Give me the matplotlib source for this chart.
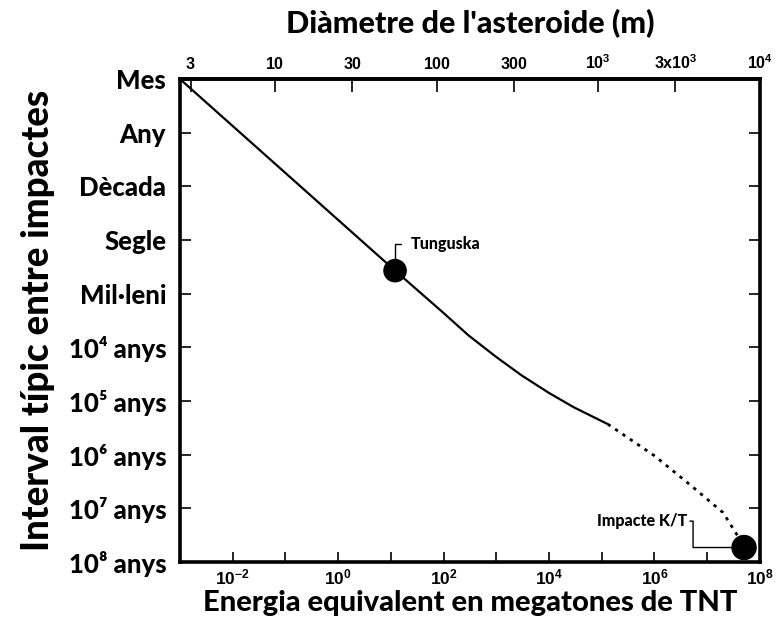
import matplotlib
matplotlib.use("Agg")
import matplotlib.pyplot as plt
import numpy as np

# %%
# Values
# energy in megatons of TNT, interval as log10(years) (-1 = month)
solid_energy = [1e-3, 1e-1, 1e1, 1e2, 3e2, 1e3, 3e3, 1e4, 3e4, 1.3e5]
solid_interval = [-1.0, 0.75, 2.5, 3.36, 3.78, 4.18, 4.52, 4.85, 5.12, 5.43]
dotted_energy = [1.3e5, 1e6, 5e6, 2e7, 4e7]
dotted_interval = [5.43, 6.02, 6.58, 7.08, 7.55]

event_names = ["Tunguska", "Impacte K/T"]
event_energy = [12.0, 5e7]
event_interval = [2.57, 7.73]

y_ticks = [-1, 0, 1, 2, 3, 4, 5, 6, 7, 8]
y_labels = ["Mes", "Any", "Dècada", "Segle", "Mil·leni",
            "10⁴ anys", "10⁵ anys", "10⁶ anys", "10⁷ anys", "10⁸ anys"]

x_ticks = [10.0 ** k for k in range(-3, 9)]
x_labels = ["", r"$10^{-2}$", "", r"$10^{0}$", "", r"$10^{2}$", "",
            r"$10^{4}$", "", r"$10^{6}$", "", r"$10^{8}$"]

diam_ticks = [3, 10, 30, 100, 300, 1000, 3000, 10000]
diam_labels = [r"$3$", r"$10$", r"$30$", r"$100$", r"$300$",
               r"$10^3$", r"$3x10^3$", r"$10^4$"]

# %%
plt.rcParams["mathtext.fontset"] = "custom"
plt.rcParams["mathtext.rm"] = "Liberation Sans:bold"
plt.rcParams["mathtext.it"] = "Liberation Sans:bold"
plt.rcParams["mathtext.bf"] = "Liberation Sans:bold"

big_font = ["Lato", "DejaVu Sans"]

fig = plt.figure(figsize=(7.81, 6.18), dpi=100)
ax = fig.add_axes([0.2305, 0.0906, 0.7425, 0.7814])

ax.plot(solid_energy, solid_interval, color="black", lw=1.6, solid_capstyle="butt")
ax.plot(dotted_energy, dotted_interval, color="black", lw=2.0, ls=(0, (1.2, 2.0)))
ax.scatter(event_energy, event_interval, s=[256, 300], color="black", zorder=5, clip_on=False)

ax.set_xscale("log")
ax.set_xlim(1e-3, 1e8)
ax.set_ylim(8, -1)

ax.set_xticks(x_ticks)
ax.set_xticklabels(x_labels)
ax.xaxis.set_minor_locator(matplotlib.ticker.NullLocator())
ax.set_yticks(y_ticks)
ax.set_yticklabels(y_labels, family=big_font, weight="black", fontsize=18.5)

ax.tick_params(axis="x", direction="in", length=7, width=1.2, labelsize=12.5, pad=5)
ax.tick_params(axis="y", direction="in", length=8, width=1.2, right=True, pad=10)
for s in ax.spines.values():
    s.set_linewidth(2.6)

ax.set_xlabel("Energia equivalent en megatones de TNT", family=big_font,
              weight="black", fontsize=21, labelpad=1)
ax.set_ylabel("Interval típic entre impactes", family=big_font,
              weight="black", fontsize=26.5, labelpad=10)


# diameter axis: E = 1e8 * (d / 1e4) ** 3.066
def e_to_d(e):
    e = np.clip(e, 1e-30, None)
    return 1e4 * (e / 1e8) ** (1 / 3.066)


def d_to_e(d):
    d = np.clip(d, 1e-30, None)
    return 1e8 * (d / 1e4) ** 3.066


top = ax.secondary_xaxis("top", functions=(e_to_d, d_to_e))
top.set_xticks(diam_ticks)
top.set_xticklabels(diam_labels)
top.xaxis.set_minor_locator(matplotlib.ticker.NullLocator())
top.tick_params(direction="in", length=9, width=1.2, labelsize=11.5, pad=5)
top.spines["top"].set_linewidth(2.6)
top.set_xlabel("Diàmetre de l'asteroide (m)", family=big_font,
               weight="black", fontsize=22, labelpad=15)

# annotations (arc arms are in pixels)
ax.annotate(event_names[0], xy=(event_energy[0], event_interval[0]),
            xytext=(11, 19), textcoords="offset points", ha="left", va="center",
            family=big_font, weight="black", fontsize=11.5,
            arrowprops=dict(arrowstyle="-", color="black", lw=1.0, shrinkA=5, shrinkB=8,
                            relpos=(0.0, 0.5),
                            connectionstyle="angle,angleA=0,angleB=90,rad=0"))
ax.annotate(event_names[1], xy=(event_energy[1], event_interval[1]),
            xytext=(-41, 19), textcoords="offset points", ha="right", va="center",
            family=big_font, weight="black", fontsize=11.5,
            arrowprops=dict(arrowstyle="-", color="black", lw=1.0, shrinkA=0, shrinkB=8,
                            relpos=(1.0, 0.5),
                            connectionstyle="arc,angleA=0,angleB=180,armA=6,armB=51,rad=0"))

fig.savefig("out.png", dpi=100)
